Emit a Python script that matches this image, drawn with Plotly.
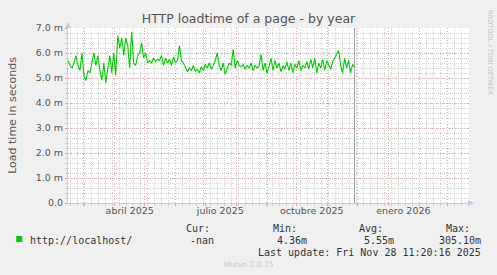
import pandas as pd
import plotly.graph_objects as go

# ---- data ----
start_date = "2025-02-13"
step = "2D"
load_ms = [
    5.7, 5.5, 5.4, 5.6, 5.9, 5.5, 5.3, 6.0, 5.1, 4.9, 5.3, 5.2, 5.6, 6.0, 5.5, 5.9,
    5.3, 4.9, 5.6, 4.8, 5.4, 5.9, 5.2, 6.0, 5.1,
    6.7, 6.2, 6.6, 5.9, 6.6, 6.3, 5.4, 6.85, 5.6,
    5.5, 5.9, 6.0, 6.4, 5.8, 6.0, 5.6, 5.7, 5.6,
    5.8, 5.65, 5.75, 5.7, 5.9, 5.5, 5.8, 5.6, 5.75, 5.5, 5.85, 5.6, 5.7, 6.3,
    5.7, 5.6, 5.4, 5.25, 5.4, 5.3, 5.5, 5.25, 5.35, 5.2, 5.45, 5.3, 5.55, 5.4, 5.6, 5.35,
    5.5, 5.7, 6.0, 5.5, 5.3, 5.6, 5.15, 5.4, 5.6, 5.5, 6.15, 5.4, 5.7, 5.5, 5.45, 5.55,
    5.35, 5.5, 5.4, 5.6, 5.3, 5.5, 5.4, 5.5, 5.95, 5.3, 5.6, 5.2, 5.45, 5.8, 5.3, 5.7,
    5.4, 5.6, 5.25, 5.5, 5.35, 5.65, 5.3, 5.6, 5.2, 5.55, 5.4, 5.7, 5.3, 5.5, 5.4, 5.65,
    5.35, 5.75, 5.4, 5.8, 5.2, 5.6, 5.4, 5.75, 5.3, 5.7, 5.5, 5.35, 5.65, 5.8, 6.0, 6.1,
    5.5, 5.2, 5.8, 5.4, 5.7, 5.2, 5.55, 5.4,
]
now_date = "2025-11-28"
x_range = ["2025-02-13", "2026-03-23"]
y_ticks = [0, 1, 2, 3, 4, 5, 6, 7]
y_tick_text = ["0.0", "1.0 m", "2.0 m", "3.0 m", "4.0 m", "5.0 m", "6.0 m", "7.0 m"]
x_label_dates = ["2025-04-16", "2025-07-16", "2025-10-16", "2026-01-16"]
x_label_text = ["abril 2025", "julio 2025", "octubre 2025", "enero 2026"]
series_name = "http://localhost/"
stat_headers = ["Cur:", "Min:", "Avg:", "Max:"]
stat_values = ["-nan", "4.36m", "5.55m", "305.10m"]
last_update = "Last update: Fri Nov 28 11:20:16 2025"

dates = pd.date_range(start_date, periods=len(load_ms), freq=step)

# ---- styling ----
W, H = 497, 275
L, R, T, B = 66, 469, 28, 203
RED = "#E9A3A3"
GRAY = "#D2D2D2"
AXIS = "#C6CAF0"
TXT = "#555555"
GREEN = "#00CC00"
SANS = "DejaVu Sans"
MONO = "DejaVu Sans Mono"


def px(xp):
    return (xp - L) / (R - L)


def py(yp):
    return (B - yp) / (B - T)


fig = go.Figure()
fig.add_trace(go.Scatter(x=dates, y=load_ms, mode="lines",
                         line=dict(color=GREEN, width=1.1), showlegend=False,
                         hoverinfo="skip"))
# invisible trace on the label axis
fig.add_trace(go.Scatter(x=[dates[0]], y=[None], xaxis="x2", yaxis="y",
                         showlegend=False, hoverinfo="skip"))

fig.update_layout(
    width=W, height=H,
    margin=dict(l=L, r=W - R, t=T, b=H - B),
    paper_bgcolor="#F0F0F0", plot_bgcolor="#FFFFFF",
    showlegend=False,
    xaxis=dict(
        type="date", range=x_range,
        tick0="2025-01-01", dtick="M1",
        showticklabels=False, ticks="outside", ticklen=2, tickcolor=RED,
        showgrid=True, gridcolor=RED, griddash="1px,2px", gridwidth=1,
        minor=dict(tick0="2025-02-16", dtick=7 * 86400000, showgrid=True,
                   gridcolor=GRAY, griddash="1px,1px", gridwidth=1,
                   ticks="outside", ticklen=2, tickcolor=GRAY),
        showline=True, linecolor=AXIS, linewidth=1, zeroline=False,
        fixedrange=True,
    ),
    xaxis2=dict(
        type="date", range=x_range, overlaying="x", side="bottom", anchor="y",
        tickmode="array", tickvals=x_label_dates, ticktext=x_label_text,
        ticks="", showgrid=False, showline=False, zeroline=False,
        tickfont=dict(family=SANS, size=9.5, color=TXT),
    ),
    yaxis=dict(
        range=[0, 7], tickmode="array", tickvals=y_ticks, ticktext=y_tick_text,
        tickfont=dict(family=SANS, size=9.5, color=TXT),
        ticks="outside", ticklen=2, tickcolor=RED,
        showgrid=True, gridcolor=RED, griddash="1px,2px", gridwidth=1,
        minor=dict(dtick=0.2, showgrid=True, gridcolor=GRAY,
                   griddash="1px,1px", gridwidth=1,
                   ticks="outside", ticklen=2, tickcolor=GRAY),
        showline=True, linecolor=AXIS, linewidth=1, zeroline=False,
        title=dict(text="Load time in seconds", standoff=16,
                   font=dict(family=SANS, size=11, color=TXT)),
    ),
    title=dict(text="HTTP loadtime of a page - by year", x=0.5, xanchor="center",
               y=1 - 19 / H, yanchor="middle",
               font=dict(family=SANS, size=12.5, color=TXT)),
)

# "now" rule
fig.add_shape(type="line", xref="x", yref="paper", x0=now_date, x1=now_date,
              y0=0, y1=1, line=dict(color="#9A9A9A", width=1))

ann = []
# axis arrows
ann.append(dict(xref="paper", yref="paper", x=px(474), y=py(B), ax=-7, ay=0,
                text="", showarrow=True, arrowhead=2, arrowsize=1.2,
                arrowwidth=1, arrowcolor=AXIS))
ann.append(dict(xref="paper", yref="paper", x=px(L), y=py(22), ax=0, ay=7,
                text="", showarrow=True, arrowhead=2, arrowsize=1.2,
                arrowwidth=1, arrowcolor=AXIS))
# side watermark
ann.append(dict(xref="paper", yref="paper", x=px(490), y=py(53),
                text="RRDTOOL / TOBI OETIKER", textangle=90, showarrow=False,
                font=dict(family=SANS, size=6.6, color="#C0C0C0"),
                xanchor="center", yanchor="middle"))
# legend
ann.append(dict(xref="paper", yref="paper", x=px(26), y=py(240),
                text=series_name, showarrow=False, xanchor="left", yanchor="middle",
                font=dict(family=MONO, size=10, color="#333333")))
head_x = [197, 284, 371, 458]
val_right = [215, 308, 396, 483]
for hx, h, vr, v in zip(head_x, stat_headers, val_right, stat_values):
    ann.append(dict(xref="paper", yref="paper", x=px(hx), y=py(228), text=h,
                    showarrow=False, xanchor="center", yanchor="middle",
                    font=dict(family=MONO, size=10, color="#333333")))
    ann.append(dict(xref="paper", yref="paper", x=px(vr), y=py(240), text=v,
                    showarrow=False, xanchor="right", yanchor="middle",
                    font=dict(family=MONO, size=10, color="#333333")))
ann.append(dict(xref="paper", yref="paper", x=px(483), y=py(252), text=last_update,
                showarrow=False, xanchor="right", yanchor="middle",
                font=dict(family=MONO, size=10, color="#333333")))
ann.append(dict(xref="paper", yref="paper", x=px(248), y=py(264), text="Munin 2.0.75",
                showarrow=False, xanchor="center", yanchor="middle",
                font=dict(family=SANS, size=7.6, color="#C8C8C8")))
fig.update_layout(annotations=ann)

# legend colour swatch
fig.add_shape(type="rect", xref="paper", yref="paper",
              x0=px(14), x1=px(20), y0=py(242), y1=py(236),
              fillcolor=GREEN, line=dict(width=0))

fig.write_html("out.html")
